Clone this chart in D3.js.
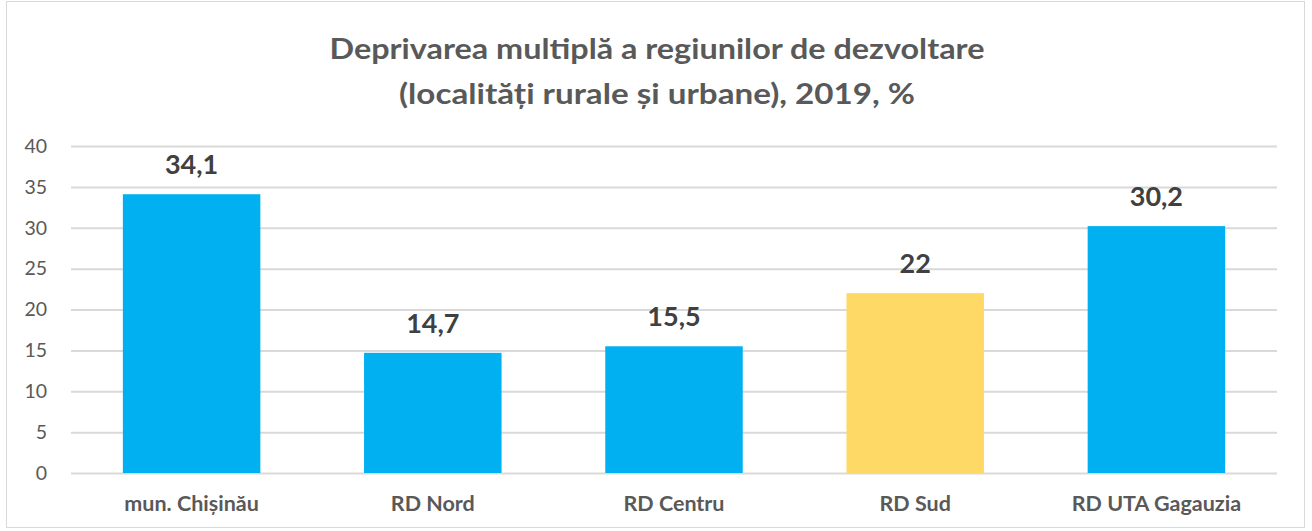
<!DOCTYPE html>
<html><head><meta charset="utf-8">
<script src="https://cdn.jsdelivr.net/npm/d3@7/dist/d3.min.js"></script>
<style>body{margin:0;background:#fff}svg{display:block}</style>
</head><body>
<svg id="c" width="1312" height="531"></svg>
<script>
const categories = ["mun. Chișinău", "RD Nord", "RD Centru", "RD Sud", "RD UTA Gagauzia"];
const values = [34.1, 14.7, 15.5, 22, 30.2];
const valueLabels = ["34,1", "14,7", "15,5", "22", "30,2"];
const barColors = ["#00B0F0", "#00B0F0", "#00B0F0", "#FFD966", "#00B0F0"];
const yTicks = [0, 5, 10, 15, 20, 25, 30, 35, 40];
const titleLines = ["Deprivarea multiplă a regiunilor de dezvoltare", "(localități rurale și urbane), 2019, %"];

const svg = d3.select("#c");
const font = "Lato, 'Open Sans', 'Liberation Sans', sans-serif";
svg.append("rect").attr("x", 6.5).attr("y", 1.5).attr("width", 1298).attr("height", 526)
  .attr("fill", "#fff").attr("stroke", "#d9d9d9").attr("stroke-width", 1);

const x = d3.scaleBand().domain(categories).range([71, 1277]).paddingInner(0.43).paddingOuter(0.215);
const y = d3.scaleLinear().domain([0, 40]).range([473, 146]);

// title
svg.selectAll("text.title").data(titleLines).join("text").attr("class", "title")
  .attr("x", 657).attr("y", (d, i) => 59 + i * 45)
  .attr("text-anchor", "middle").attr("font-family", font).attr("font-weight", "bold")
  .attr("font-size", 29).attr("fill", "#595959")
  .attr("textLength", (d, i) => i === 0 ? 655 : 516).attr("lengthAdjust", "spacingAndGlyphs")
  .text(d => d);

// gridlines + y axis
const yAxis = d3.axisLeft(y).tickValues(yTicks).tickSize(-(1277 - 71)).tickPadding(24);
const gy = svg.append("g").attr("transform", "translate(71,0)").call(yAxis);
gy.select(".domain").remove();
gy.selectAll(".tick line").attr("stroke", "#d9d9d9").attr("stroke-width", 2);
gy.selectAll(".tick text").attr("font-family", font).attr("font-size", 19.5).attr("fill", "#595959");

// bars
svg.selectAll("rect.bar").data(values).join("rect").attr("class", "bar")
  .attr("x", (d, i) => x(categories[i])).attr("width", x.bandwidth())
  .attr("y", d => y(d)).attr("height", d => y(0) - y(d))
  .attr("fill", (d, i) => barColors[i]);

// value labels
svg.selectAll("text.val").data(values).join("text").attr("class", "val")
  .attr("x", (d, i) => x(categories[i]) + x.bandwidth() / 2).attr("y", d => y(d) - 20)
  .attr("text-anchor", "middle").attr("font-family", font).attr("font-weight", "bold")
  .attr("font-size", 27).attr("fill", "#404040")
  .text((d, i) => valueLabels[i]);

// x axis labels
const xAxis = d3.axisBottom(x).tickSize(0).tickPadding(23);
const gx = svg.append("g").attr("transform", "translate(0,473)").call(xAxis);
gx.select(".domain").remove();
gx.selectAll(".tick text").attr("font-family", font).attr("font-weight", "bold")
  .attr("font-size", 21.5).attr("fill", "#595959");
</script>
</body></html>
